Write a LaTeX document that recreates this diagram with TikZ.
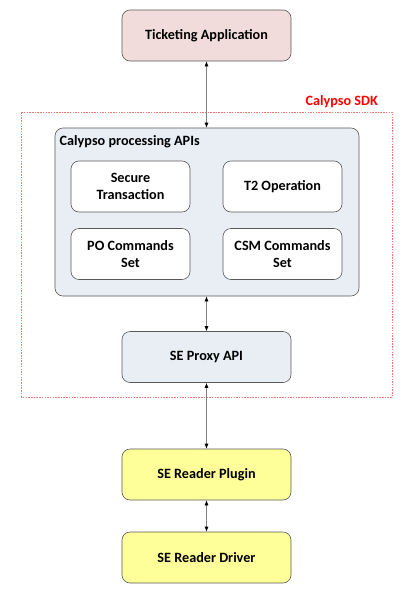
\documentclass[tikz,border=0pt]{standalone}
\usepackage{fontspec}
\setmainfont{Carlito}
\usetikzlibrary{arrows.meta}
\definecolor{pinkfill}{HTML}{F2DCDB}
\definecolor{bluefill}{HTML}{E9EDF4}
\definecolor{yellowfill}{HTML}{FFFF99}
\definecolor{edgegray}{HTML}{595959}
\definecolor{sdkred}{HTML}{FF0000}
\tikzset{
  lbl/.style={font=\bfseries\fontsize{14.2}{16.5}\selectfont},
  box/.style={draw=edgegray, line width=0.6pt, rounded corners=8pt, lbl, align=center, inner sep=0pt},
  bigbox/.style={box, minimum width=169pt, minimum height=51pt},
  smallbox/.style={box, fill=white, minimum width=119pt, minimum height=51pt},
  conn/.style={draw=gray, line width=0.6pt, {Latex[length=5pt,width=4pt,color=black]}-{Latex[length=5pt,width=4pt,color=black]}},
}
\begin{document}
\begin{tikzpicture}[x=1pt,y=-1pt]
\useasboundingbox (0,0) rectangle (415,600);
% Calypso SDK boundary
\draw[sdkred!55, line width=0.5pt, dash pattern=on 1.5pt off 1.2pt] (21.7,112) rectangle (392,397);
\node[anchor=east, text=sdkred, lbl, inner sep=0pt] (sdk) at (378,102) {Calypso SDK};
% nodes
\node[bigbox, fill=pinkfill] (ticket) at (206.5,35.5) {Ticketing Application};
\node[box, fill=bluefill, minimum width=304pt, minimum height=168pt] (proc) at (207,212) {};
\node[anchor=west, lbl, inner sep=0pt] (proctitle) at (59.5,141.5) {Calypso processing APIs};
\node[smallbox] (secure) at (130.5,186.5) {Secure\\Transaction};
\node[smallbox] (t2) at (282.5,186.5) {T2 Operation};
\node[smallbox] (po) at (130.5,254) {PO Commands\\Set};
\node[smallbox] (csm) at (282.5,254) {CSM Commands\\Set};
\node[bigbox, fill=bluefill] (proxy) at (206.5,357) {SE Proxy API};
\node[bigbox, fill=yellowfill] (plugin) at (206.5,474.5) {SE Reader Plugin};
\node[bigbox, fill=yellowfill] (driver) at (206.5,557.5) {SE Reader Driver};
% connectors
\draw[conn] (ticket.south) -- (ticket.south |- proc.north);
\draw[conn] (proc.south -| proxy.north) -- (proxy.north);
\draw[conn] (proxy.south) -- (plugin.north);
\draw[conn] (plugin.south) -- (driver.north);
\end{tikzpicture}
\end{document}
